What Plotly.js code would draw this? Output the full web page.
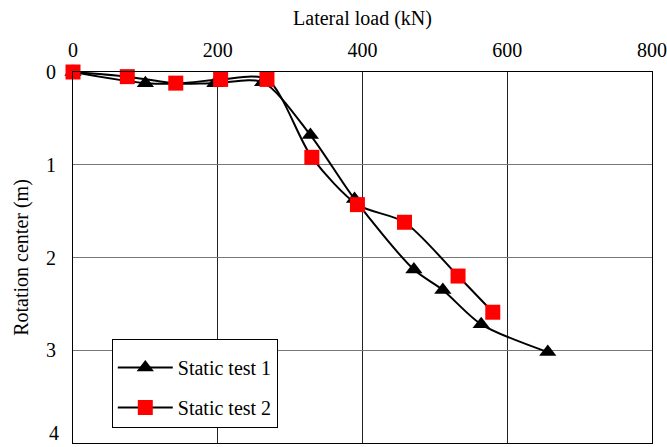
<!DOCTYPE html>
<html><head><meta charset="utf-8">
<script src="https://cdn.plot.ly/plotly-3.0.1.min.js"></script>
<style>html,body{margin:0;padding:0;background:#fff}#c{width:667px;height:447px}</style>
</head><body><div id="c"></div>
<script>
const load1 = [0, 100, 196, 262, 328, 389, 471, 511, 564, 656];
const rot1  = [0, 0.12, 0.12, 0.11, 0.68, 1.37, 2.13, 2.35, 2.72, 3.02];
const load2 = [0, 75, 142, 204, 268, 330, 393, 458, 532, 580];
const rot2  = [0, 0.05, 0.12, 0.08, 0.08, 0.92, 1.43, 1.62, 2.2, 2.59];
const names = ["Static test 1", "Static test 2"];
const xTicks = [0, 200, 400, 600, 800];
const yTicks = [0, 1, 2, 3, 4];

const font = {family: "Liberation Serif", size: 20, color: "#000"};
const data = [
  {x: load1, y: rot1, name: names[0], legendgroup: "a", mode: "lines+markers", type: "scatter",
   line: {color: "#000", width: 2, shape: "spline", smoothing: 0.8},
   marker: {symbol: "triangle-up", size: 15, color: "#000"}, cliponaxis: false},
  {x: load2, y: rot2, name: names[1], legendgroup: "b", mode: "lines+markers", type: "scatter",
   line: {color: "#000", width: 2, shape: "spline", smoothing: 0.8},
   marker: {symbol: "square", size: 15, color: "#ff0000"}, cliponaxis: false}
];
const yLast = yTicks[yTicks.length - 1];
const layout = {
  width: 667, height: 447,
  margin: {l: 73, r: 15, t: 72, b: 4},
  paper_bgcolor: "#fff", plot_bgcolor: "#fff",
  font: font,
  showlegend: true,
  legend: {x: 0.067, y: 0.28, xanchor: "left", yanchor: "top",
           bgcolor: "#fff", bordercolor: "#000", borderwidth: 1,
           font: font, tracegroupgap: 11, traceorder: "grouped", itemwidth: 55,
           title: {text: " ", font: {family: "Liberation Serif", size: 6}}},
  xaxis: {side: "top", range: [0, 800], tickvals: xTicks, ticktext: xTicks.map(String),
          showgrid: true, gridcolor: "#222", gridwidth: 1, zeroline: false,
          showline: true, linecolor: "#000", linewidth: 1, mirror: true,
          ticks: "outside", ticklen: 6, tickcolor: "rgba(0,0,0,0)",
          title: {text: "Lateral load (kN)", font: font, standoff: 8}},
  yaxis: {range: [yLast, 0], tickvals: yTicks.slice(0, -1), ticktext: yTicks.slice(0, -1).map(String),
          showgrid: true, gridcolor: "#777", gridwidth: 1, zeroline: false,
          showline: true, linecolor: "#000", linewidth: 1, mirror: true,
          ticks: "outside", ticklen: 12, tickcolor: "rgba(0,0,0,0)",
          title: {text: "Rotation center (m)", font: font, standoff: 12}},
  annotations: [{xref: "paper", yref: "y", x: 0, y: yLast, text: String(yLast),
                 showarrow: false, xanchor: "right", yanchor: "bottom", xshift: -12, yshift: -3,
                 font: font}]
};
Plotly.newPlot("c", data, layout, {displayModeBar: false, staticPlot: true});
</script></body></html>
